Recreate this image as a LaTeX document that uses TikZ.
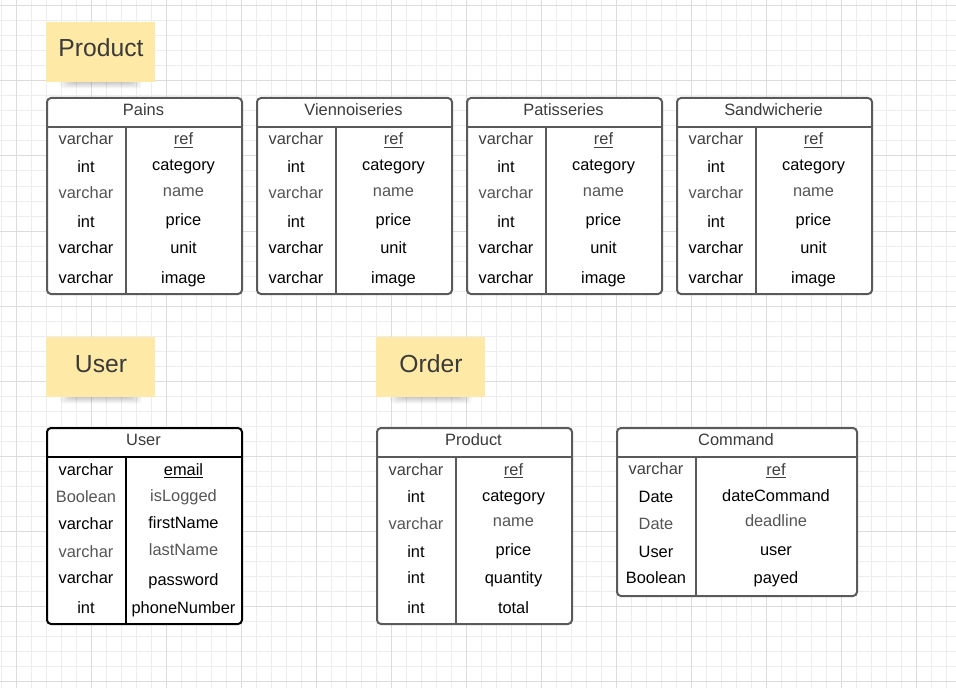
\documentclass[tikz,border=0pt]{standalone}
\usepackage{fontspec}
\setmainfont{Liberation Sans}

\definecolor{gridminor}{HTML}{EDEDED}
\definecolor{gridmajor}{HTML}{DCDCDC}
\definecolor{sticky}{RGB}{254,234,166}
\definecolor{frame}{HTML}{5A5A5A}
\definecolor{inkhead}{HTML}{3A3A3A}
\definecolor{inkmid}{HTML}{404040}
\definecolor{inksoft}{HTML}{555555}

\tikzset{
  tablebox/.style={draw=frame, line width=1.5pt, rounded corners=3pt, fill=white, inner sep=0pt},
  cell/.style={font=\fontsize{12.3}{14}\selectfont, anchor=base, inner sep=0pt},
  head/.style={cell, text=inkhead},
  notebox/.style={fill=sticky, draw=none, inner sep=0pt, anchor=north west,
    minimum width=109*0.75pt, minimum height=60*0.75pt},
  notetext/.style={font=\fontsize{18.5}{22}\selectfont, text=inkhead, anchor=base, inner sep=0pt},
  shadowlayer/.style={fill=black, opacity=0.035, rounded corners=3pt},
}

% soft shadow under a sticky note whose top left corner is at (#1,#2)
\newcommand\noteshadow[2]{%
  \foreach \k in {0,...,5}
    \fill[shadowlayer] (#1+14+2*\k,#2+30) rectangle (#1+96-2*\k,#2+66.5-1.1*\k);
}

% table frame: name, x, y, width, height, frame colour, title
\newcommand\dbtable[7]{%
  \node[tablebox, draw=#6, minimum width=#4*0.75pt, minimum height=#5*0.75pt,
        anchor=north west] (#1) at (#2,#3) {};
  \draw[line width=1.5pt, draw=#6] (#2,#3+30) -- (#2+#4,#3+30);
  \draw[line width=1.5pt, draw=#6] (#2+80,#3+30) -- (#2+80,#3+#5);
  \node[head] (#1-title) at (#2+#4/2,#3+18.7) {#7};
}

% table rows: name, x, y, offset of right column centre, list of rows
\newcommand\dbrows[5]{%
  \foreach \lb/\lc/\lt/\rb/\rc/\rt [count=\i] in #5 {
    \node[cell, text=\lc] (#1-l\i) at (#2+40,#3+\lb) {\lt};
    \node[cell, text=\rc] (#1-r\i) at (#2+#4,#3+\rb) {\rt};
  }}

\def\productrows{48/inkmid/varchar/48/inkmid/\underline{ref},
  75.7/black/int/74/black/category,
  102/inksoft/varchar/99.7/inksoft/name,
  130.7/black/int/128/black/price,
  156/black/varchar/156/black/unit,
  186/black/varchar/186/black/image}

\begin{document}
\begin{tikzpicture}[x=0.75pt, y=-0.75pt]
  \useasboundingbox (0,0) rectangle (956,688);
  \fill[white] (0,0) rectangle (956,688);

  % background grid
  \foreach \gx in {1.7,16.7,...,956} \draw[gridminor, line width=0.75pt] (\gx,0) -- (\gx,688);
  \foreach \gy in {6,21,...,688} \draw[gridminor, line width=0.75pt] (0,\gy) -- (956,\gy);
  \foreach \gx in {16.7,91.7,...,956} \draw[gridmajor, line width=0.75pt] (\gx,0) -- (\gx,688);
  \foreach \gy in {6,81,...,688} \draw[gridmajor, line width=0.75pt] (0,\gy) -- (956,\gy);

  % sticky notes
  \noteshadow{46}{22}
  \node[notebox] (noteProduct) at (46,22) {};
  \node[notetext] (noteProduct-text) at (101,57) {Product};

  \noteshadow{46}{337}
  \node[notebox] (noteUser) at (46,337) {};
  \node[notetext] (noteUser-text) at (101,372) {User};

  \noteshadow{376}{337}
  \node[notebox] (noteOrder) at (376,337) {};
  \node[notetext] (noteOrder-text) at (431,372) {Order};

  % product tables
  \dbtable{pains}{46}{97}{195}{196}{frame}{Pains}
  \dbrows{pains}{46}{97}{137.5}{\productrows}
  \dbtable{vienn}{256}{97}{195}{196}{frame}{Viennoiseries}
  \dbrows{vienn}{256}{97}{137.5}{\productrows}
  \dbtable{patis}{466}{97}{195}{196}{frame}{Patisseries}
  \dbrows{patis}{466}{97}{137.5}{\productrows}
  \dbtable{sandw}{676}{97}{195}{196}{frame}{Sandwicherie}
  \dbrows{sandw}{676}{97}{137.5}{\productrows}

  % user table
  \dbtable{user}{46}{427}{195}{196}{black}{User}
  \dbrows{user}{46}{427}{137.5}{{48/black/varchar/48/black/\underline{email},
    75.7/inksoft/Boolean/74/inksoft/isLogged,
    102/black/varchar/101.3/black/firstName,
    130.7/inksoft/varchar/128/inksoft/lastName,
    156/black/varchar/158.7/black/password,
    186/black/int/186/black/phoneNumber}}

  % order tables
  \dbtable{orderProduct}{376}{427}{195}{196}{frame}{Product}
  \dbrows{orderProduct}{376}{427}{137.5}{{48/inkmid/varchar/48/inkmid/\underline{ref},
    75.7/black/int/74/black/category,
    102/inksoft/varchar/99.7/inksoft/name,
    130.7/black/int/128/black/price,
    156/black/int/156/black/quantity,
    186/black/int/186/black/total}}

  \dbtable{command}{616}{427}{240}{168}{frame}{Command}
  \dbrows{command}{616}{427}{160}{{47.3/inkmid/varchar/48/inkmid/\underline{ref},
    75.7/black/Date/74/black/dateCommand,
    102.3/inksoft/Date/99.7/inksoft/deadline,
    130.7/black/User/128/black/user,
    156.3/black/Boolean/156.3/black/payed}}
\end{tikzpicture}
\end{document}
